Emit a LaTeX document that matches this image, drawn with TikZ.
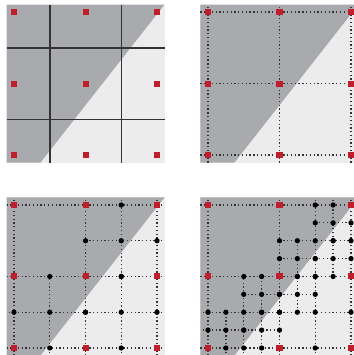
\documentclass[tikz,border=0pt]{standalone}
\usepackage{tikz}
\usetikzlibrary{positioning}

\definecolor{darkfill}{RGB}{168,170,173}
\definecolor{litefill}{RGB}{236,236,237}
\definecolor{samplered}{RGB}{192,30,45}

\begin{document}
\begin{tikzpicture}[
        x=1cm,
        y=1cm,
        cellline/.style={black!80, line width=0.6pt},
        gridline/.style={black!80, line width=0.5pt, densely dotted},
        redpt/.style={fill=samplered},
        blackpt/.style={fill=black}
    ]
        \def\m{0.105}
        \useasboundingbox (0,0) rectangle (4.951,4.965);
        \clip (0,0) rectangle (4.951,4.965);

        % backgrounds: light square, dark part left of the edge
        \foreach \sx/\sy in {0.196/2.797, 2.909/2.797, 0.196/0.098, 2.909/0.098} {
            \begin{scope}[shift={(\sx,\sy)}]
                \fill[litefill] (-\m,-\m) rectangle (2+\m,2+\m);
                \fill[darkfill] (-\m,-\m) -- (0.37,-\m) -- (2+\m,2+\m) -- (-\m,2+\m) -- cycle;
            \end{scope}
        }

        % panel 1: pixel cells around the samples
        \begin{scope}[shift={(0.196,2.797)}]
            \foreach \t in {0.5,1.5} {
                \draw[cellline] (\t,-\m) -- (\t,2+\m);
                \draw[cellline] (-\m,\t) -- (2+\m,\t);
            }
        \end{scope}

        % panel 2: coarse sample grid
        \begin{scope}[shift={(2.909,2.797)}]
            \foreach \t in {0,1,2} {
                \draw[gridline] (\t,-\m) -- (\t,2+\m);
                \draw[gridline] (-\m,\t) -- (2+\m,\t);
            }
        \end{scope}

        % panel 3: one refinement step
        \begin{scope}[shift={(0.196,0.098)}]
            \foreach \t in {0,1,2} {
                \draw[gridline] (\t,-\m) -- (\t,2+\m);
                \draw[gridline] (-\m,\t) -- (2+\m,\t);
            }
            \foreach \a/\b in {0/0, 1/1, 1/0} {
                \draw[gridline] (\a+0.5,\b) -- (\a+0.5,\b+1);
                \draw[gridline] (\a,\b+0.5) -- (\a+1,\b+0.5);
            }
            \foreach \x/\y/\dx/\dy in {0.5/0/0/-1, 1.5/0/0/-1, 0/0.5/-1/0, 2/0.5/1/0, 2/1.5/1/0, 1.5/2/0/1}
                \draw[gridline] (\x,\y) -- ++(\dx*\m,\dy*\m);
            \foreach \a/\b in {0/0, 1/1, 1/0} {
                \foreach \du/\dv in {0.5/0, 0/0.5, 0.5/0.5, 1/0.5, 0.5/1}
                    \fill[blackpt] (\a+\du,\b+\dv) circle (0.037);
            }
        \end{scope}

        % panel 4: two refinement steps
        \begin{scope}[shift={(2.909,0.098)}]
            \foreach \t in {0,1,2} {
                \draw[gridline] (\t,-\m) -- (\t,2+\m);
                \draw[gridline] (-\m,\t) -- (2+\m,\t);
            }
            \foreach \a/\b in {0/0, 1/1, 1/0} {
                \draw[gridline] (\a+0.5,\b) -- (\a+0.5,\b+1);
                \draw[gridline] (\a,\b+0.5) -- (\a+1,\b+0.5);
            }
            \foreach \a/\b in {0/0, 0.5/0, 0.5/0.5, 1/1, 1.5/1, 1.5/1.5, 1/0.5} {
                \draw[gridline] (\a+0.25,\b) -- (\a+0.25,\b+0.5);
                \draw[gridline] (\a,\b+0.25) -- (\a+0.5,\b+0.25);
            }
            \foreach \x/\y/\dx/\dy in {0.5/0/0/-1, 1.5/0/0/-1, 0/0.5/-1/0, 2/0.5/1/0, 2/1.5/1/0, 1.5/2/0/1,
                    0.25/0/0/-1, 0.75/0/0/-1, 0/0.25/-1/0, 2/1.25/1/0, 2/1.75/1/0, 1.75/2/0/1}
                \draw[gridline] (\x,\y) -- ++(\dx*\m,\dy*\m);
            \foreach \a/\b in {0/0, 1/1, 1/0} {
                \foreach \du/\dv in {0.5/0, 0/0.5, 0.5/0.5, 1/0.5, 0.5/1}
                    \fill[blackpt] (\a+\du,\b+\dv) circle (0.037);
            }
            \foreach \a/\b in {0/0, 0.5/0, 0.5/0.5, 1/1, 1.5/1, 1.5/1.5, 1/0.5} {
                \foreach \du/\dv in {0.25/0, 0/0.25, 0.25/0.25, 0.5/0.25, 0.25/0.5}
                    \fill[blackpt] (\a+\du,\b+\dv) circle (0.037);
            }
        \end{scope}

        % red samples on top
        \foreach \sx/\sy in {0.196/2.797, 2.909/2.797, 0.196/0.098, 2.909/0.098} {
            \foreach \u in {0,1,2} {
                \foreach \v in {0,1,2}
                    \fill[redpt] (\sx+\u-0.042,\sy+\v-0.042) rectangle ++(0.084,0.084);
            }
        }
    \end{tikzpicture}
\end{document}
